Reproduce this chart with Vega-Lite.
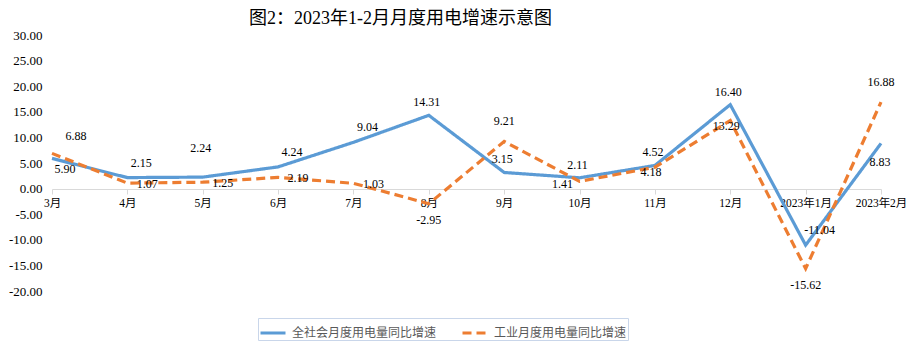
{
  "$schema": "https://vega.github.io/schema/vega-lite/v6.json",
  "width": 829,
  "height": 256,
  "autosize": "none",
  "padding": {"left": 52, "top": 35, "right": 25, "bottom": 55},
  "background": "white",
  "config": {
    "view": {"stroke": null},
    "locale": {"number": {"decimal": ".", "thousands": ",", "grouping": [3], "currency": ["", ""], "minus": "-"}},
    "text": {"font": "Liberation Serif, Noto Sans CJK SC", "fontSize": 12, "color": "#000", "baseline": "middle", "align": "center"}
  },
  "title": {"text": "图2：2023年1-2月月度用电增速示意图", "fontSize": 18, "font": "Liberation Serif, Noto Sans CJK SC", "fontWeight": "normal", "color": "#000", "anchor": "middle", "frame": "group", "dx": -66, "offset": 1},
  "datasets": {
    "d": [
      {"month": "3月", "series": "全社会月度用电量同比增速", "value": 5.90},
      {"month": "4月", "series": "全社会月度用电量同比增速", "value": 2.15},
      {"month": "5月", "series": "全社会月度用电量同比增速", "value": 2.24},
      {"month": "6月", "series": "全社会月度用电量同比增速", "value": 4.24},
      {"month": "7月", "series": "全社会月度用电量同比增速", "value": 9.04},
      {"month": "8月", "series": "全社会月度用电量同比增速", "value": 14.31},
      {"month": "9月", "series": "全社会月度用电量同比增速", "value": 3.15},
      {"month": "10月", "series": "全社会月度用电量同比增速", "value": 2.11},
      {"month": "11月", "series": "全社会月度用电量同比增速", "value": 4.52},
      {"month": "12月", "series": "全社会月度用电量同比增速", "value": 16.40},
      {"month": "2023年1月", "series": "全社会月度用电量同比增速", "value": -11.04},
      {"month": "2023年2月", "series": "全社会月度用电量同比增速", "value": 8.83},
      {"month": "3月", "series": "工业月度用电量同比增速", "value": 6.88},
      {"month": "4月", "series": "工业月度用电量同比增速", "value": 1.07},
      {"month": "5月", "series": "工业月度用电量同比增速", "value": 1.25},
      {"month": "6月", "series": "工业月度用电量同比增速", "value": 2.19},
      {"month": "7月", "series": "工业月度用电量同比增速", "value": 1.03},
      {"month": "8月", "series": "工业月度用电量同比增速", "value": -2.95},
      {"month": "9月", "series": "工业月度用电量同比增速", "value": 9.21},
      {"month": "10月", "series": "工业月度用电量同比增速", "value": 1.41},
      {"month": "11月", "series": "工业月度用电量同比增速", "value": 4.18},
      {"month": "12月", "series": "工业月度用电量同比增速", "value": 13.29},
      {"month": "2023年1月", "series": "工业月度用电量同比增速", "value": -15.62},
      {"month": "2023年2月", "series": "工业月度用电量同比增速", "value": 16.88}
    ]
  },
  "data": {"name": "d"},
  "encoding": {
    "x": {
      "field": "month", "type": "ordinal",
      "sort": ["3月", "4月", "5月", "6月", "7月", "8月", "9月", "10月", "11月", "12月", "2023年1月", "2023年2月"],
      "scale": {"type": "point", "padding": 0},
      "axis": {"title": null, "labelAngle": 0, "offset": -102, "domainColor": "#d9d9d9", "tickColor": "#d9d9d9", "tickSize": 5, "labelPadding": 3, "labelFont": "Liberation Serif, Noto Sans CJK SC", "labelFontSize": 11.5, "labelColor": "#000", "labelOverlap": false, "labelFlush": false, "grid": false}
    },
    "y": {
      "field": "value", "type": "quantitative",
      "scale": {"domain": [-20, 30], "nice": false, "zero": false},
      "axis": {"title": null, "values": [-20, -15, -10, -5, 0, 5, 10, 15, 20, 25, 30], "format": ".2f", "domain": false, "ticks": false, "grid": false, "labelPadding": 10, "labelFont": "Liberation Serif", "labelFontSize": 13, "labelColor": "#000"}
    }
  },
  "layer": [
    {
      "mark": {"type": "line", "strokeWidth": 3.2},
      "encoding": {
        "color": {"field": "series", "type": "nominal", "title": null,
          "scale": {"domain": ["全社会月度用电量同比增速", "工业月度用电量同比增速"], "range": ["#5B9BD5", "#ED7D31"]},
          "legend": {"orient": "none", "legendX": 206, "legendY": 283, "direction": "horizontal", "symbolType": "stroke", "symbolStrokeWidth": 3, "symbolSize": 625, "labelFont": "Noto Sans CJK SC", "labelFontSize": 12, "labelColor": "#595959", "strokeColor": "#c9d6ea", "padding": 1, "columnPadding": 19, "labelOffset": 5}
        },
        "strokeDash": {"field": "series", "type": "nominal", "title": null,
          "scale": {"domain": ["全社会月度用电量同比增速", "工业月度用电量同比增速"], "range": [[1, 0], [9, 5]]}
        }
      }
    },
    {"transform": [{"filter": {"and": [{"field": "series", "equal": "全社会月度用电量同比增速"}, {"field": "month", "oneOf": ["4月", "6月", "7月", "2023年1月"]}]}}],
     "mark": {"type": "text", "dx": 14, "dy": -15}, "encoding": {"text": {"field": "value", "format": ".2f"}}},
    {"transform": [{"filter": {"and": [{"field": "series", "equal": "全社会月度用电量同比增速"}, {"field": "month", "oneOf": ["8月", "9月", "10月", "11月", "12月"]}]}}],
     "mark": {"type": "text", "dx": -2, "dy": -13}, "encoding": {"text": {"field": "value", "format": ".2f"}}},
    {"transform": [{"filter": {"and": [{"field": "series", "equal": "全社会月度用电量同比增速"}, {"field": "month", "oneOf": ["5月"]}]}}],
     "mark": {"type": "text", "dx": -2, "dy": -29}, "encoding": {"text": {"field": "value", "format": ".2f"}}},
    {"transform": [{"filter": {"and": [{"field": "series", "equal": "全社会月度用电量同比增速"}, {"field": "month", "oneOf": ["3月"]}]}}],
     "mark": {"type": "text", "dx": 13, "dy": 11}, "encoding": {"text": {"field": "value", "format": ".2f"}}},
    {"transform": [{"filter": {"and": [{"field": "series", "equal": "全社会月度用电量同比增速"}, {"field": "month", "oneOf": ["2023年2月"]}]}}],
     "mark": {"type": "text", "dx": -1, "dy": 19}, "encoding": {"text": {"field": "value", "format": ".2f"}}},
    {"transform": [{"filter": {"and": [{"field": "series", "equal": "工业月度用电量同比增速"}, {"field": "month", "oneOf": ["4月", "5月", "6月", "7月"]}]}}],
     "mark": {"type": "text", "dx": 20, "dy": 1}, "encoding": {"text": {"field": "value", "format": ".2f"}}},
    {"transform": [{"filter": {"and": [{"field": "series", "equal": "工业月度用电量同比增速"}, {"field": "month", "oneOf": ["3月"]}]}}],
     "mark": {"type": "text", "dx": 24, "dy": -17}, "encoding": {"text": {"field": "value", "format": ".2f"}}},
    {"transform": [{"filter": {"and": [{"field": "series", "equal": "工业月度用电量同比增速"}, {"field": "month", "oneOf": ["9月", "2023年2月"]}]}}],
     "mark": {"type": "text", "dx": 0, "dy": -20}, "encoding": {"text": {"field": "value", "format": ".2f"}}},
    {"transform": [{"filter": {"and": [{"field": "series", "equal": "工业月度用电量同比增速"}, {"field": "month", "oneOf": ["8月", "2023年1月"]}]}}],
     "mark": {"type": "text", "dx": 0, "dy": 16}, "encoding": {"text": {"field": "value", "format": ".2f"}}},
    {"transform": [{"filter": {"and": [{"field": "series", "equal": "工业月度用电量同比增速"}, {"field": "month", "oneOf": ["11月", "12月"]}]}}],
     "mark": {"type": "text", "dx": -4, "dy": 5}, "encoding": {"text": {"field": "value", "format": ".2f"}}},
    {"transform": [{"filter": {"and": [{"field": "series", "equal": "工业月度用电量同比增速"}, {"field": "month", "oneOf": ["10月"]}]}}],
     "mark": {"type": "text", "dx": -17, "dy": 3}, "encoding": {"text": {"field": "value", "format": ".2f"}}}
  ]
}
